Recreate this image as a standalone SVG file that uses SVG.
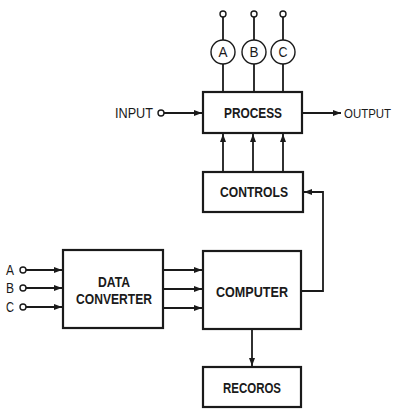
<svg xmlns="http://www.w3.org/2000/svg" width="396" height="409" viewBox="0 0 396 409">
<style>
.box{fill:#fff;stroke:#1a1a1a;stroke-width:2.2}
.ln{fill:none;stroke:#1a1a1a;stroke-width:1.8}
.ar{fill:none;stroke:#1a1a1a;stroke-width:1.8;marker-end:url(#ah)}
.term{fill:#fff;stroke:#1a1a1a;stroke-width:1.4}
.lbl{font-family:"Liberation Sans",Arial,sans-serif;font-weight:bold;font-size:15px;fill:#1a1a1a;text-anchor:middle}
.io{font-family:"Liberation Sans",Arial,sans-serif;font-size:14.5px;fill:#1a1a1a}
.cl{font-family:"Liberation Sans",Arial,sans-serif;font-size:14px;fill:#1a1a1a;text-anchor:middle}
</style>
<defs>
<marker id="ah" markerUnits="userSpaceOnUse" markerWidth="9" markerHeight="7" refX="8" refY="3" orient="auto">
<path d="M0,0 L8,3 L0,6 Z" fill="#1a1a1a"/>
</marker>
</defs>
<rect width="396" height="409" fill="#fff"/>
<g id="connectors">
<line class="ln" x1="223" y1="17" x2="223" y2="40"/>
<line class="ln" x1="254" y1="17" x2="254" y2="40"/>
<line class="ln" x1="283" y1="17" x2="283" y2="40"/>
<line class="ln" x1="223" y1="64" x2="223" y2="92"/>
<line class="ln" x1="254" y1="64" x2="254" y2="92"/>
<line class="ln" x1="283" y1="64" x2="283" y2="92"/>
<line class="ar" x1="164" y1="113" x2="202" y2="113"/>
<line class="ar" x1="302" y1="113" x2="341" y2="113"/>
<line class="ar" x1="223" y1="172" x2="223" y2="134"/>
<line class="ar" x1="253" y1="172" x2="253" y2="134"/>
<line class="ar" x1="283" y1="172" x2="283" y2="134"/>
<polyline class="ar" points="301,291 323,291 323,192 304,192"/>
<line class="ar" x1="26" y1="270" x2="62" y2="270"/>
<line class="ar" x1="26" y1="288" x2="62" y2="288"/>
<line class="ar" x1="26" y1="307" x2="62" y2="307"/>
<line class="ar" x1="163" y1="270" x2="202" y2="270"/>
<line class="ar" x1="163" y1="289" x2="202" y2="289"/>
<line class="ar" x1="163" y1="308" x2="202" y2="308"/>
<line class="ar" x1="252" y1="329" x2="252" y2="366"/>
</g>
<g id="terminal-a-top"><circle class="term" cx="223" cy="14" r="3"/></g>
<g id="terminal-b-top"><circle class="term" cx="254" cy="14" r="3"/></g>
<g id="terminal-c-top"><circle class="term" cx="283" cy="14" r="3"/></g>
<g id="meter-a"><circle class="term" cx="223" cy="52" r="12" stroke-width="1.8"/><text class="cl" x="223" y="57" textLength="9" lengthAdjust="spacingAndGlyphs">A</text></g>
<g id="meter-b"><circle class="term" cx="254" cy="52" r="12" stroke-width="1.8"/><text class="cl" x="254" y="57" textLength="9" lengthAdjust="spacingAndGlyphs">B</text></g>
<g id="meter-c"><circle class="term" cx="283" cy="52" r="12" stroke-width="1.8"/><text class="cl" x="283" y="57" textLength="9" lengthAdjust="spacingAndGlyphs">C</text></g>
<g id="process"><rect class="box" x="203" y="92" width="99" height="41"/><text class="lbl" x="253" y="118" textLength="58" lengthAdjust="spacingAndGlyphs">PROCESS</text></g>
<g id="input"><text class="io" x="115" y="118" textLength="38" lengthAdjust="spacingAndGlyphs">INPUT</text><circle class="term" cx="161" cy="113" r="3"/></g>
<g id="output"><text class="io" x="344" y="117.5" style="font-size:12.5px" textLength="47" lengthAdjust="spacingAndGlyphs">OUTPUT</text></g>
<g id="controls"><rect class="box" x="203" y="172" width="100" height="40"/><text class="lbl" x="254" y="197" textLength="68" lengthAdjust="spacingAndGlyphs">CONTROLS</text></g>
<g id="data-converter"><rect class="box" x="63" y="250" width="100" height="78"/><text class="lbl" x="114" y="287" textLength="32" lengthAdjust="spacingAndGlyphs">DATA</text><text class="lbl" x="114" y="304" textLength="76" lengthAdjust="spacingAndGlyphs">CONVERTER</text></g>
<g id="input-a"><text class="io" x="6" y="275" textLength="8" lengthAdjust="spacingAndGlyphs">A</text><circle class="term" cx="23" cy="270" r="3"/></g>
<g id="input-b"><text class="io" x="6" y="293" textLength="8" lengthAdjust="spacingAndGlyphs">B</text><circle class="term" cx="23" cy="288" r="3"/></g>
<g id="input-c"><text class="io" x="6" y="312" textLength="8" lengthAdjust="spacingAndGlyphs">C</text><circle class="term" cx="23" cy="307" r="3"/></g>
<g id="computer"><rect class="box" x="203" y="251" width="98" height="78"/><text class="lbl" x="252" y="297" textLength="72" lengthAdjust="spacingAndGlyphs">COMPUTER</text></g>
<g id="records"><rect class="box" x="203" y="367" width="98" height="40"/><text class="lbl" x="252" y="393" textLength="58" lengthAdjust="spacingAndGlyphs">RECOROS</text></g>
</svg>
